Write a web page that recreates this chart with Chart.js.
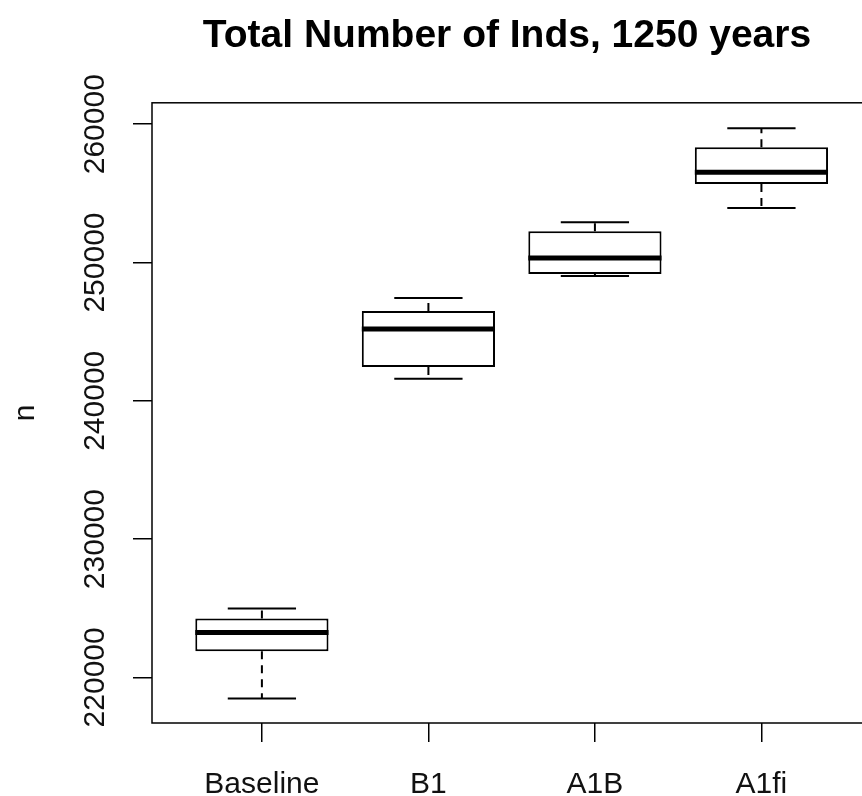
<!DOCTYPE html>
<html>
<head>
<meta charset="utf-8">
<script src="https://cdn.jsdelivr.net/npm/chart.js@4.4.1/dist/chart.umd.min.js"></script>
<style>
  html, body { margin: 0; padding: 0; background: #fff; overflow: hidden; }
  canvas { display: block; }
</style>
</head>
<body>
<canvas id="box-chart" width="862" height="796"></canvas>
<script>
// values
const categories = ['Baseline', 'B1', 'A1B', 'A1fi'];
const whiskerLow = [218480, 241590, 249030, 253940];
const q1 = [221880, 242450, 249170, 255670];
const median = [223250, 245200, 250320, 256530];
const q3 = [224260, 246500, 252270, 258340];
const whiskerHigh = [224980, 247440, 252920, 259710];
const yTicks = [220000, 230000, 240000, 250000, 260000];

const FONT = "'Liberation Sans', Arial, sans-serif";

// whiskers, caps and medians, placed with the chart's own scales
const boxExtras = {
  id: 'boxExtras',
  afterDatasetsDraw(chart) {
    const ctx = chart.ctx;
    const xs = chart.scales.x;
    const ys = chart.scales.y;
    ctx.save();
    ctx.strokeStyle = '#000';
    categories.forEach((c, i) => {
      const x = xs.getPixelForValue(i);
      const boxL = xs.getPixelForValue(i - 0.4);
      const boxR = xs.getPixelForValue(i + 0.4);
      const capL = xs.getPixelForValue(i - 0.205);
      const capR = xs.getPixelForValue(i + 0.205);

      // dashed whisker lines
      ctx.lineWidth = 2;
      ctx.setLineDash([8, 6]);
      ctx.beginPath();
      ctx.moveTo(x, ys.getPixelForValue(q3[i]));
      ctx.lineTo(x, ys.getPixelForValue(whiskerHigh[i]));
      ctx.moveTo(x, ys.getPixelForValue(q1[i]));
      ctx.lineTo(x, ys.getPixelForValue(whiskerLow[i]));
      ctx.stroke();

      // caps
      ctx.setLineDash([]);
      ctx.beginPath();
      ctx.moveTo(capL, ys.getPixelForValue(whiskerHigh[i]));
      ctx.lineTo(capR, ys.getPixelForValue(whiskerHigh[i]));
      ctx.moveTo(capL, ys.getPixelForValue(whiskerLow[i]));
      ctx.lineTo(capR, ys.getPixelForValue(whiskerLow[i]));
      ctx.stroke();

      // median
      ctx.lineWidth = 5;
      ctx.beginPath();
      ctx.moveTo(boxL, ys.getPixelForValue(median[i]));
      ctx.lineTo(boxR, ys.getPixelForValue(median[i]));
      ctx.stroke();
    });

    // plot frame (right side runs off the picture)
    const a = chart.chartArea;
    ctx.lineWidth = 1.5;
    ctx.strokeRect(a.left, a.top, a.right - a.left + 20, a.bottom - a.top);
    ctx.restore();
  }
};

new Chart(document.getElementById('box-chart'), {
  type: 'bar',
  data: {
    datasets: [{
      label: 'n',
      data: categories.map((c, i) => ({ x: i, y: [q1[i], q3[i]] })),
      backgroundColor: '#fff',
      borderColor: '#000',
      borderWidth: 2,
      borderSkipped: false,
      barPercentage: 0.8,
      categoryPercentage: 1
    }]
  },
  options: {
    responsive: false,
    animation: false,
    devicePixelRatio: 1,
    layout: { padding: 0 },
    plugins: {
      legend: { display: false },
      tooltip: { enabled: false },
      title: {
        display: true,
        fullSize: false,
        text: 'Total Number of Inds, 1250 years',
        color: '#000',
        font: { family: FONT, size: 39, weight: 'bold' },
        padding: { top: 13, bottom: 43 }
      }
    },
    scales: {
      x: {
        type: 'linear',
        min: -0.66,
        max: 3.604,
        offset: false,
        afterFit: s => { s.height = 73; },
        afterBuildTicks: s => { s.ticks = categories.map((c, i) => ({ value: i })); },
        grid: { offset: false, drawOnChartArea: false, tickLength: 19, color: '#000', lineWidth: 1.5 },
        border: { display: false },
        ticks: {
          autoSkip: false,
          maxRotation: 0,
          padding: 25,
          color: '#111',
          font: { family: FONT, size: 30 },
          callback: v => categories[v]
        }
      },
      y: {
        min: 216700,
        max: 261550,
        afterFit: s => { s.width = 152; },
        afterBuildTicks: s => { s.ticks = yTicks.map(v => ({ value: v })); },
        grid: { drawOnChartArea: false, tickLength: 19, color: '#000', lineWidth: 1.5 },
        border: { display: false },
        title: {
          display: true,
          text: 'n',
          color: '#111',
          font: { family: FONT, size: 30 },
          padding: { top: 8, bottom: 0 }
        },
        ticks: {
          minRotation: 90,
          maxRotation: 90,
          crossAlign: 'center',
          padding: -13,
          color: '#111',
          font: { family: FONT, size: 30 },
          callback: v => String(v)
        }
      }
    }
  },
  plugins: [boxExtras]
});
</script>
</body>
</html>
